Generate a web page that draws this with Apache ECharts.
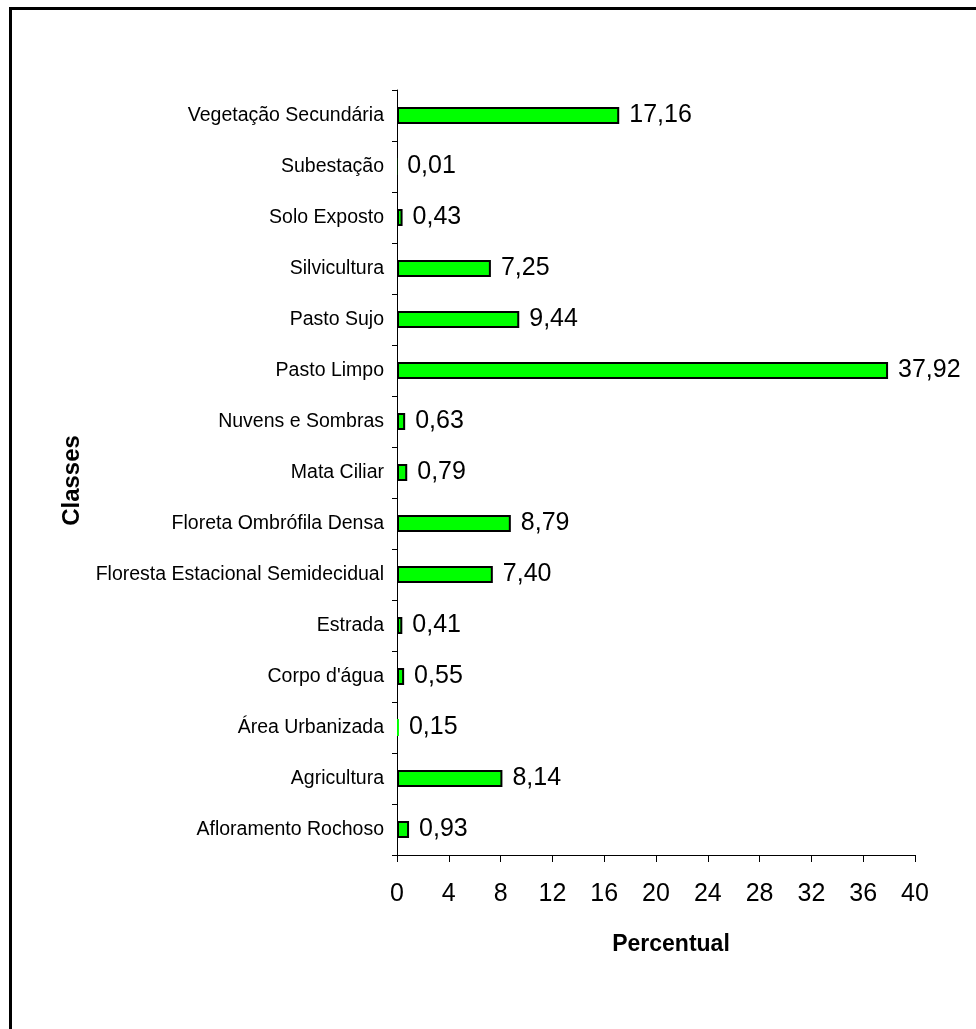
<!DOCTYPE html>
<html>
<head>
<meta charset="utf-8">
<script src="https://cdn.jsdelivr.net/npm/echarts@6/dist/echarts.min.js"></script>
<style>
  html, body { margin: 0; padding: 0; background: #fff; }
  #chart { width: 976px; height: 1029px; }
</style>
</head>
<body>
<div id="chart"></div>
<script>
// categories, bottom to top (as drawn on the y axis)
const categories = [
  "Afloramento Rochoso",
  "Agricultura",
  "Área Urbanizada",
  "Corpo d'água",
  "Estrada",
  "Floresta Estacional Semidecidual",
  "Floreta Ombrófila Densa",
  "Mata Ciliar",
  "Nuvens e Sombras",
  "Pasto Limpo",
  "Pasto Sujo",
  "Silvicultura",
  "Solo Exposto",
  "Subestação",
  "Vegetação Secundária"
];
const percentual = [0.93, 8.14, 0.15, 0.55, 0.41, 7.40, 8.79, 0.79, 0.63, 37.92, 9.44, 7.25, 0.43, 0.01, 17.16];
const xTicks = [0, 4, 8, 12, 16, 20, 24, 28, 32, 36, 40];

const FONT = "Arial, 'Liberation Sans', sans-serif";

// barras muito finas ficam sem contorno
const barData = percentual.map((v) =>
  v < 0.2 ? { value: v, itemStyle: { borderWidth: 0 } } : v
);

const chart = echarts.init(document.getElementById("chart"), null, { renderer: "canvas" });

chart.setOption({
  backgroundColor: "#fff",
  animation: false,
  grid: { left: 397, right: 61, top: 90, bottom: 174, containLabel: false },
  graphic: [
    // moldura (só lados esquerdo e superior aparecem)
    { type: "line", shape: { x1: 10.5, y1: 7, x2: 10.5, y2: 1029 }, style: { stroke: "#000", lineWidth: 3 } },
    { type: "line", shape: { x1: 9, y1: 8.5, x2: 976, y2: 8.5 }, style: { stroke: "#000", lineWidth: 3 } }
  ],
  xAxis: {
    type: "value",
    min: xTicks[0],
    max: xTicks[xTicks.length - 1],
    interval: 4,
    name: "Percentual",
    nameLocation: "middle",
    nameGap: 78,
    nameTextStyle: {
      fontFamily: FONT, fontSize: 23, fontWeight: "bold", color: "#000",
      padding: [0, 0, 0, 30]
    },
    axisLine: { show: true, lineStyle: { color: "#000", width: 1 } },
    axisTick: { show: true, length: 7, lineStyle: { color: "#000" } },
    axisLabel: { fontFamily: FONT, fontSize: 25, color: "#000", margin: 27 },
    splitLine: { show: false }
  },
  yAxis: {
    type: "category",
    data: categories,
    name: "Classes",
    nameLocation: "middle",
    nameGap: 309,
    nameRotate: 90,
    nameTextStyle: {
      fontFamily: FONT, fontSize: 24, fontWeight: "bold", color: "#000",
      padding: [0, 16, 0, 0]
    },
    axisLine: { show: true, lineStyle: { color: "#000", width: 1 } },
    axisTick: { show: true, length: 5, alignWithLabel: false, lineStyle: { color: "#000" } },
    axisLabel: { fontFamily: FONT, fontSize: 19.5, color: "#000", margin: 13, interval: 0 },
    splitLine: { show: false }
  },
  series: [
    {
      type: "bar",
      data: barData,
      barWidth: 17,
      itemStyle: { color: "#00ff00", borderColor: "#000", borderWidth: 2 },
      label: {
        show: true,
        position: "right",
        distance: 10,
        fontFamily: FONT,
        fontSize: 25,
        color: "#000",
        formatter: (p) => p.value.toFixed(2).replace(".", ",")
      }
    }
  ]
});
</script>
</body>
</html>
